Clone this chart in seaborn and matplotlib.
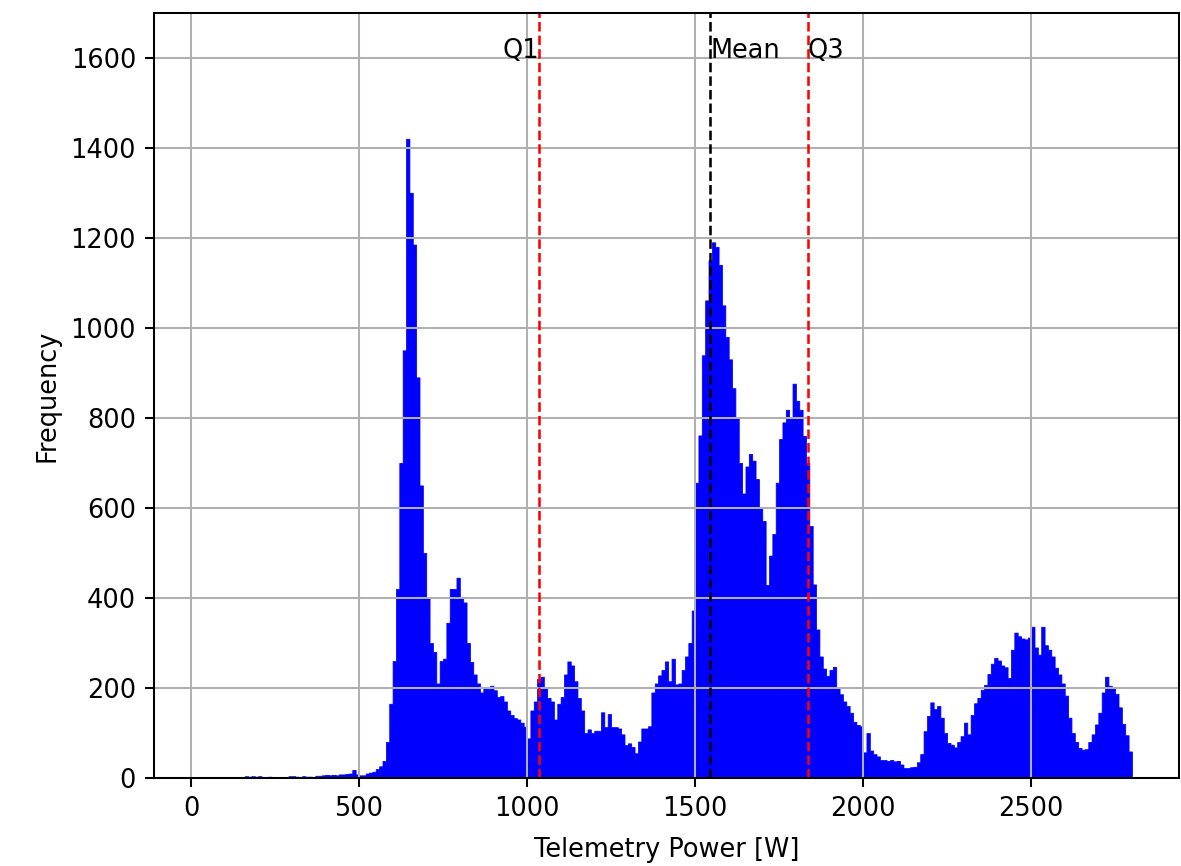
import numpy as np
import pandas as pd
import seaborn as sns
import matplotlib
matplotlib.use("Agg")
import matplotlib.pyplot as plt

# histogram of telemetry power, 10 W bins starting at 150 W
bin_start = 150
bin_width = 10
counts = [
    0, 4, 3, 4, 3,                                        # 150-190
    4, 0, 0, 3, 2, 0, 0, 0, 0, 4,                         # 200-290
    4, 3, 0, 4, 3, 3, 0, 5, 5, 6,                         # 300-390
    7, 6, 7, 6, 8, 8, 9, 10, 18, 8,                       # 400-490
    6, 6, 10, 12, 14, 20, 26, 38, 80, 165,                # 500-590
    260, 420, 700, 950, 1420, 1300, 1185, 890, 650, 500,  # 600-690
    400, 300, 280, 210, 260, 265, 345, 420, 420, 445,     # 700-790
    400, 390, 300, 258, 230, 210, 190, 200, 198, 205,     # 800-890
    195, 180, 182, 170, 150, 140, 133, 130, 123, 114,     # 900-990
    88, 150, 170, 220, 225, 200, 178, 170, 130, 165,      # 1000-1090
    180, 230, 259, 250, 215, 178, 150, 100, 108, 100,     # 1100-1190
    105, 105, 146, 113, 142, 113, 113, 110, 97, 73,       # 1200-1290
    77, 69, 55, 81, 110, 110, 115, 190, 210, 228,         # 1300-1390
    240, 259, 215, 265, 208, 210, 240, 270, 300, 372,     # 1400-1490
    656, 761, 939, 1061, 1150, 1190, 1180, 1140, 1050, 980,  # 1500-1590
    930, 866, 800, 700, 632, 692, 720, 705, 664, 600,     # 1600-1690
    571, 429, 494, 542, 656, 753, 790, 818, 802, 876,     # 1700-1790
    838, 818, 760, 700, 560, 430, 330, 270, 243, 227,     # 1800-1890
    240, 247, 202, 186, 170, 160, 145, 125, 118, 115,     # 1900-1990
    57, 100, 61, 53, 48, 40, 40, 38, 40, 37,              # 2000-2090
    38, 30, 22, 22, 24, 25, 35, 53, 104, 138,             # 2100-2190
    168, 153, 160, 134, 100, 78, 74, 68, 80, 93,          # 2200-2290
    123, 97, 140, 166, 178, 196, 207, 231, 254, 267,      # 2300-2390
    261, 250, 246, 222, 285, 323, 315, 310, 308, 312,     # 2400-2490
    336, 290, 274, 336, 295, 285, 270, 245, 230, 210,     # 2500-2590
    183, 134, 100, 80, 67, 63, 64, 80, 97, 119,           # 2600-2690
    145, 190, 225, 205, 200, 187, 157, 120, 95, 59,       # 2700-2790
]

q1 = 1036
mean = 1545
q3 = 1835

bin_end = bin_start + bin_width * len(counts)
centers = bin_start + bin_width * np.arange(len(counts)) + bin_width / 2
df = pd.DataFrame({'power': centers, 'count': counts})

dpi = 184.5
fig = plt.figure(figsize=(1181 / dpi, 866 / dpi), dpi=dpi)
ax = fig.add_axes([0.1304, 0.1016, 0.8679, 0.8837])

# filled step outline -> solid blue area like plt.hist with many bins
sns.histplot(data=df, x='power', weights='count', binwidth=bin_width,
             binrange=(bin_start, bin_end), element='step', fill=True,
             color='blue', alpha=1, edgecolor='blue', linewidth=0.3, ax=ax)

ax.axvline(q1, color='red', linestyle='--', linewidth=1)
ax.axvline(mean, color='black', linestyle='--', linewidth=1)
ax.axvline(q3, color='red', linestyle='--', linewidth=1)
ax.text(q1, 1600, 'Q1', ha='right')
ax.text(mean, 1600, 'Mean', ha='left')
ax.text(q3, 1600, 'Q3', ha='left')

ax.set_xlim(-110, 2940)
ax.set_ylim(0, 1700)
ax.set_xlabel('Telemetry Power [W]', labelpad=6)
ax.set_ylabel('Frequency')
ax.grid(True)

fig.savefig('out.png', dpi=dpi)
